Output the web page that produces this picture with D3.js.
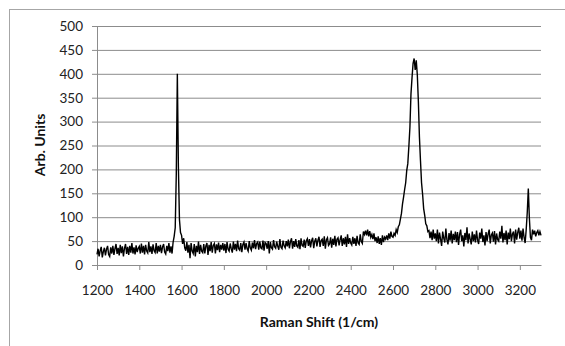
<!DOCTYPE html>
<html>
<head>
<meta charset="utf-8">
<script src="https://cdn.jsdelivr.net/npm/d3@7"></script>
<style>
  body { margin: 0; background: #fff; }
  svg { display: block; }
  .tick text { font-family: Lato, "Open Sans", sans-serif; font-size: 13.5px; fill: #222; }
  .title { font-family: Lato, "Open Sans", sans-serif; font-size: 14px; font-weight: bold; fill: #111; }
</style>
</head>
<body>
<svg id="chart" width="565" height="346"></svg>
<script>
// raman spectrum, sampled every 5 1/cm starting at 1200
var shiftStart = 1200;
var shiftStep = 5;
var intensity = [
  22,34,18,30,38,16,28,36,20,33,40,22,18,37,24,40,21,34,44,23,
  36,20,42,25,39,18,35,44,23,38,21,40,26,46,24,37,22,41,27,35,
  39,24,45,26,40,22,42,29,25,48,27,39,23,43,30,26,46,24,40,28,
  42,25,38,44,27,23,40,29,46,26,39,24,48,60,78,190,400,205,95,68,
  62,44,56,36,30,48,26,42,14,46,29,24,44,18,40,27,49,23,42,29,
  26,44,24,40,46,21,42,29,48,26,41,45,24,43,31,47,27,42,32,46,
  30,44,25,48,33,29,45,34,26,49,32,44,29,51,34,31,46,27,43,48,
  32,46,34,29,50,36,31,47,35,52,33,45,48,32,49,36,34,51,30,47,
  45,34,50,24,48,36,33,52,38,35,49,39,32,54,37,34,51,40,36,50,
  39,53,35,49,56,34,50,38,54,40,37,52,33,56,41,39,53,36,51,55,
  40,54,37,51,57,35,50,56,39,52,59,38,51,54,40,60,34,53,57,41,
  44,58,36,55,42,61,39,54,57,41,53,62,40,56,43,59,38,64,44,56,
  46,42,59,44,56,40,61,46,43,64,49,45,70,64,72,62,74,60,71,58,
  64,54,66,50,58,46,60,44,56,42,62,48,58,54,62,52,66,55,70,60,
  58,66,62,74,68,80,84,96,108,128,142,158,172,198,212,248,288,358,392,422,
  432,408,428,398,342,268,218,172,148,118,104,86,82,70,72,56,70,52,74,55,
  66,50,74,45,68,54,40,70,56,47,76,53,43,67,51,72,45,65,52,70,
  48,69,42,64,74,50,62,39,67,52,79,45,66,54,43,70,50,64,47,72,
  52,44,68,55,76,48,62,41,69,50,65,74,45,63,67,49,71,43,66,53,
  50,70,55,82,47,67,52,72,43,68,54,76,50,65,70,45,74,53,68,78,
  55,72,51,76,58,46,74,110,160,98,58,52,74,64,72,60,68,72,62,70,
  62
];
var xTicks = [1200, 1400, 1600, 1800, 2000, 2200, 2400, 2600, 2800, 3000, 3200];
var yTicks = [0, 50, 100, 150, 200, 250, 300, 350, 400, 450, 500];
var xTitle = "Raman Shift (1/cm)";
var yTitle = "Arb. Units";

var data = intensity.map(function(v, i) {
  return { shift: shiftStart + i * shiftStep, value: v };
});

var svg = d3.select("#chart");

// outer chart border (runs off the right/bottom of the picture)
svg.append("rect")
    .attr("x", 9.5).attr("y", 9.5)
    .attr("width", 620).attr("height", 400)
    .attr("fill", "none")
    .attr("stroke", "#a6a6a6");

var x = d3.scaleLinear().domain([1200, 3300]).range([97, 541]);
var y = d3.scaleLinear().domain([0, 500]).range([265, 26]);

// gridlines + y axis
var gy = svg.append("g")
    .attr("transform", "translate(97,0)")
    .call(d3.axisLeft(y).tickValues(yTicks).tickSize(5).tickPadding(9));
gy.select(".domain").attr("stroke", "#8c8c8c");
gy.selectAll(".tick line").attr("stroke", "#8c8c8c");
gy.selectAll(".tick").append("line")
    .attr("x1", 0).attr("x2", 444)
    .attr("stroke", "#8c8c8c");

var gx = svg.append("g")
    .attr("transform", "translate(0,265)")
    .call(d3.axisBottom(x).tickValues(xTicks).tickFormat(d3.format("d"))
      .tickSize(5).tickPadding(15).tickSizeOuter(0));
gx.select(".domain").attr("stroke", "#8c8c8c");
gx.selectAll(".tick line").attr("stroke", "#8c8c8c");

var line = d3.line()
    .x(function(d) { return x(d.shift); })
    .y(function(d) { return y(d.value); });

svg.append("path")
    .datum(data)
    .attr("d", line)
    .attr("fill", "none")
    .attr("stroke", "#000")
    .attr("stroke-width", 1.4);

svg.append("text")
    .attr("class", "title")
    .attr("x", 319).attr("y", 327)
    .attr("text-anchor", "middle")
    .text(xTitle);

svg.append("text")
    .attr("class", "title")
    .attr("transform", "translate(45,145) rotate(-90)")
    .attr("text-anchor", "middle")
    .text(yTitle);
</script>
</body>
</html>
